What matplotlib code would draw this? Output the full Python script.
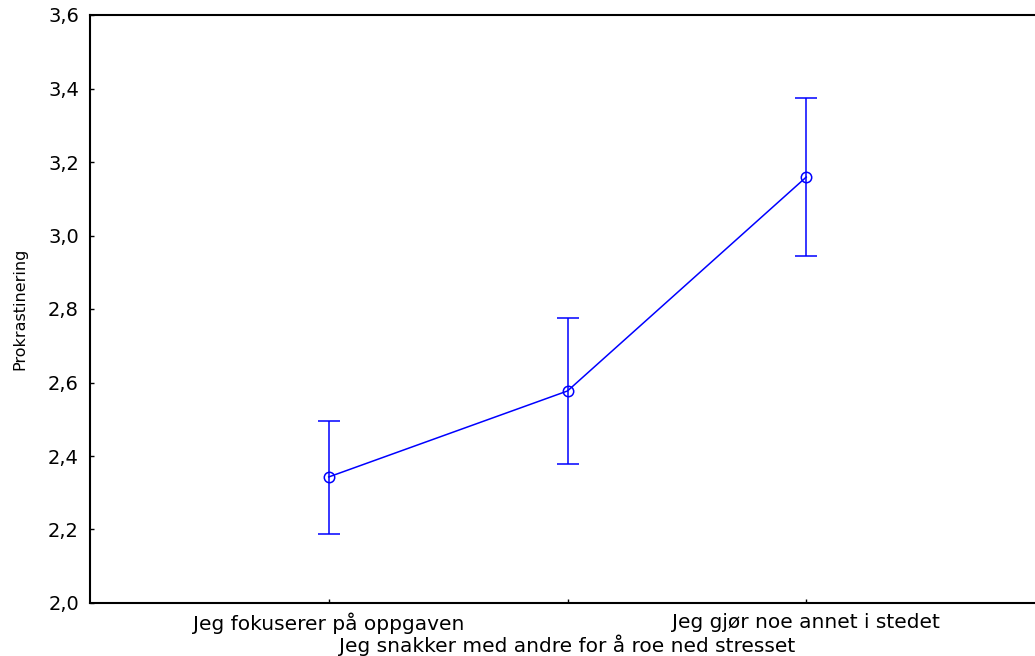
import matplotlib
matplotlib.use("Agg")
import matplotlib.pyplot as plt
import numpy as np

# data
kategorier = ["Jeg fokuserer på oppgaven",
              "Jeg snakker med andre for å roe ned stresset",
              "Jeg gjør noe annet i stedet"]
snitt = [2.343, 2.577, 3.159]
ovre = [2.495, 2.776, 3.374]
nedre = [2.188, 2.378, 2.944]
yticks = [2.0, 2.2, 2.4, 2.6, 2.8, 3.0, 3.2, 3.4, 3.6]

plt.rcParams['font.family'] = ['DejaVu Sans']

fig = plt.figure(figsize=(10.35, 6.56), dpi=100)
ax = fig.add_axes([90/1035, 53/656, 955/1035, 588/656])

x = np.arange(len(kategorier))
m = np.array(snitt)
feil = [m - np.array(nedre), np.array(ovre) - m]
ax.errorbar(x, m, yerr=feil, color='#0000ff', lw=1.1, elinewidth=1.1,
            capsize=8, capthick=1.1, marker='o', ms=7.5, mfc='none',
            mec='#0000ff', mew=1.1)

ax.set_xlim(-1, 3)
ax.set_ylim(2.0, 3.6)
ax.set_yticks(yticks)
ax.set_yticklabels([f"{v:.1f}".replace('.', ',') for v in yticks])
ax.set_xticks(x)
ax.set_xticklabels(kategorier)

for s in ax.spines.values():
    s.set_linewidth(1.5)
ax.tick_params(direction='in', length=3, width=1, labelsize=14, pad=7)
ax.tick_params(axis='x', labelsize=14.5)
ax.tick_params(axis='y', pad=8)
# middle label sits one line lower, like the original export
ax.xaxis.get_major_ticks()[1].set_pad(23)

ax.set_ylabel("Prokrastinering", fontsize=11.5)
ax.yaxis.set_label_coords(-0.066, 0.5)

fig.savefig("out.png", dpi=100)
